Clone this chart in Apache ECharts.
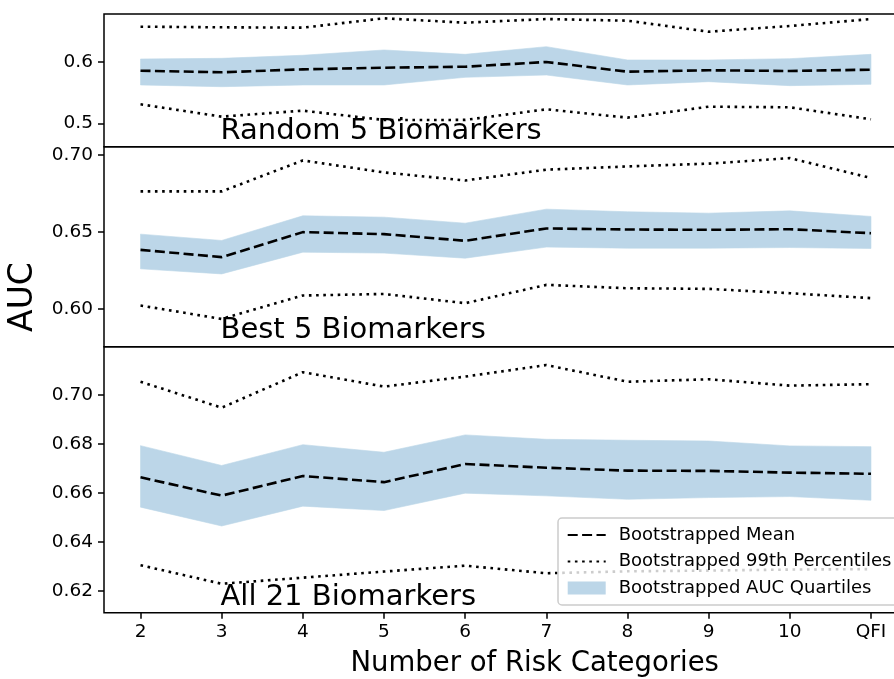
<!DOCTYPE html>
<html>
<head>
<meta charset="utf-8">
<script src="https://cdn.jsdelivr.net/npm/echarts@6/dist/echarts.min.js"></script>
<style>
  html, body { margin: 0; padding: 0; background: #ffffff; }
  #chart { width: 894px; height: 679px; }
</style>
</head>
<body>
<div id="chart"></div>
<script>
// Number of risk categories on the shared x axis
const categories = ['2', '3', '4', '5', '6', '7', '8', '9', '10', 'QFI'];

// Random 5 biomarkers
const random5Mean  = [0.5858, 0.5832, 0.5880, 0.5907, 0.5923, 0.6000, 0.5842, 0.5865, 0.5853, 0.5875];
const random5Q1    = [0.5625, 0.5597, 0.5625, 0.5625, 0.5750, 0.5788, 0.5625, 0.5679, 0.5614, 0.5636];
const random5Q3    = [0.6049, 0.6060, 0.6110, 0.6196, 0.6125, 0.6250, 0.6033, 0.6033, 0.6054, 0.6125];
const random5Low   = [0.5310, 0.5108, 0.5206, 0.5054, 0.5055, 0.5228, 0.5092, 0.5271, 0.5261, 0.5065];
const random5High  = [0.6576, 0.6566, 0.6560, 0.6713, 0.6641, 0.6701, 0.6674, 0.6494, 0.6587, 0.6701];

// Best 5 biomarkers
const best5Mean    = [0.6383, 0.6336, 0.6498, 0.6485, 0.6442, 0.6522, 0.6515, 0.6513, 0.6517, 0.6491];
const best5Q1      = [0.6260, 0.6227, 0.6368, 0.6362, 0.6329, 0.6401, 0.6394, 0.6394, 0.6398, 0.6392];
const best5Q3      = [0.6485, 0.6444, 0.6604, 0.6595, 0.6556, 0.6647, 0.6630, 0.6621, 0.6636, 0.6600];
const best5Low     = [0.6022, 0.5935, 0.6087, 0.6097, 0.6037, 0.6156, 0.6134, 0.6130, 0.6102, 0.6070];
const best5High    = [0.6762, 0.6762, 0.6963, 0.6885, 0.6833, 0.6903, 0.6924, 0.6942, 0.6978, 0.6849];

// All 21 biomarkers
const all21Mean    = [0.6664, 0.6589, 0.6669, 0.6644, 0.6718, 0.6703, 0.6691, 0.6690, 0.6683, 0.6678];
const all21Q1      = [0.6542, 0.6465, 0.6546, 0.6528, 0.6599, 0.6588, 0.6574, 0.6581, 0.6585, 0.6570];
const all21Q3      = [0.6793, 0.6712, 0.6797, 0.6766, 0.6837, 0.6819, 0.6815, 0.6812, 0.6792, 0.6789];
const all21Low     = [0.6305, 0.6229, 0.6254, 0.6279, 0.6303, 0.6272, 0.6280, 0.6283, 0.6287, 0.6289];
const all21High    = [0.7054, 0.6948, 0.7093, 0.7034, 0.7075, 0.7122, 0.7054, 0.7064, 0.7038, 0.7044];

// y tick values of each panel
const random5Ticks = [0.5, 0.6];
const best5Ticks   = [0.60, 0.65, 0.70];
const all21Ticks   = [0.62, 0.64, 0.66, 0.68, 0.70];

const panelTitles = ['Random 5 Biomarkers', 'Best 5 Biomarkers', 'All 21 Biomarkers'];
const seriesNames = ['Bootstrapped Mean', 'Bootstrapped 99th Percentiles', 'Bootstrapped AUC Quartiles'];
const xTitle = 'Number of Risk Categories';
const yTitle = 'AUC';

const FONT = 'DejaVu Sans';
const BAND = '#bcd6e8';

const panels = [
  { mean: random5Mean, q1: random5Q1, q3: random5Q3, lo: random5Low, hi: random5High,
    ticks: random5Ticks, digits: 1, min: 0.4618, max: 0.6783, top: 14, height: 132.7 },
  { mean: best5Mean, q1: best5Q1, q3: best5Q3, lo: best5Low, hi: best5High,
    ticks: best5Ticks, digits: 2, min: 0.5755, max: 0.7052, top: 146.7, height: 200 },
  { mean: all21Mean, q1: all21Q1, q3: all21Q3, lo: all21Low, hi: all21High,
    ticks: all21Ticks, digits: 2, min: 0.6111, max: 0.7197, top: 346.7, height: 266 }
];

const catIdx = categories.map((c, i) => i);
const pairs = arr => arr.map((v, i) => [i, v]);

// Quartile band: one polygon running along Q3 and back along Q1
function bandRenderer(q1, q3) {
  return function (params, api) {
    if (params.dataIndex !== 0) return null;
    const pts = [];
    for (let i = 0; i < q3.length; i++) pts.push(api.coord([i, q3[i]]));
    for (let i = q1.length - 1; i >= 0; i--) pts.push(api.coord([i, q1[i]]));
    return {
      type: 'polygon',
      shape: { points: pts },
      style: { fill: BAND, stroke: BAND, lineWidth: 0.6 }
    };
  };
}

const grids = [], xAxes = [], yAxes = [], series = [];
panels.forEach((p, k) => {
  const last = k === panels.length - 1;
  grids.push({
    left: 104, right: -13.5, top: p.top, height: p.height,
    show: true, borderColor: '#000000', borderWidth: 1.5, backgroundColor: 'transparent',
    containLabel: false, outerBoundsMode: 'none'
  });
  xAxes.push({
    type: 'value', gridIndex: k, min: -0.45, max: 9.45, position: 'bottom',
    axisLine: { show: false, onZero: false },
    splitLine: { show: false },
    axisTick: { show: last, customValues: catIdx, length: 6, lineStyle: { color: '#000', width: 1.5 } },
    axisLabel: {
      show: last, customValues: catIdx, margin: 10,
      formatter: v => categories[Math.round(v)],
      fontFamily: FONT, fontSize: 18.5, color: '#000'
    }
  });
  yAxes.push({
    type: 'value', gridIndex: k, min: p.min, max: p.max, position: 'left',
    axisLine: { show: false, onZero: false },
    splitLine: { show: false },
    axisTick: { show: true, customValues: p.ticks, length: 6, lineStyle: { color: '#000', width: 1.5 } },
    axisLabel: {
      show: true, customValues: p.ticks, margin: 11,
      formatter: v => v.toFixed(p.digits),
      fontFamily: FONT, fontSize: 18.5, color: '#000'
    }
  });
  series.push({
    type: 'custom', name: seriesNames[2], xAxisIndex: k, yAxisIndex: k,
    data: catIdx.map(i => [i, p.q1[i], p.q3[i]]),
    encode: { x: 0, y: [1, 2] },
    renderItem: bandRenderer(p.q1, p.q3),
    itemStyle: { color: BAND },
    silent: true, z: 1
  });
  series.push({
    type: 'line', name: seriesNames[0], xAxisIndex: k, yAxisIndex: k,
    data: pairs(p.mean), symbol: 'none', color: '#000',
    lineStyle: { color: '#000', width: 2.6, type: [10, 4.4] },
    silent: true, z: 3, animation: false
  });
  [p.lo, p.hi].forEach(arr => {
    series.push({
      type: 'line', name: seriesNames[1], xAxisIndex: k, yAxisIndex: k,
      data: pairs(arr), symbol: 'none', color: '#000',
      lineStyle: { color: '#000', width: 2.6, type: [2.6, 4.6] },
      silent: true, z: 3, animation: false
    });
  });
});

const titleBaselines = [141.7, 340.7, 607.7];
const TITLE_FS = 29;
const graphics = panelTitles.map((t, k) => ({
  type: 'text', left: 220.5, top: titleBaselines[k] - 0.346 * TITLE_FS - TITLE_FS / 2, z: 10,
  style: { text: t, fontFamily: FONT, fontSize: TITLE_FS, fill: '#000', lineHeight: TITLE_FS }
}));
graphics.push({
  type: 'text', x: 534.7, y: 673.3 - 0.346 * 27.5, z: 10,
  style: { text: xTitle, fontFamily: FONT, fontSize: 27.5, fill: '#000',
           align: 'center', verticalAlign: 'middle' }
});
graphics.push({
  type: 'text', x: 23, y: 297, rotation: Math.PI / 2, z: 10,
  style: { text: yTitle, fontFamily: FONT, fontSize: 33, fill: '#000',
           align: 'center', verticalAlign: 'middle' }
});

const chart = echarts.init(document.getElementById('chart'), null, { renderer: 'canvas' });
chart.setOption({
  animation: false,
  backgroundColor: '#ffffff',
  textStyle: { fontFamily: FONT },
  grid: grids,
  xAxis: xAxes,
  yAxis: yAxes,
  legend: {
    orient: 'vertical', left: 558, top: 518,
    padding: [3.75, 9, 3.75, 8.7], itemGap: 0,
    itemWidth: 38, itemHeight: 13,
    backgroundColor: 'rgba(255,255,255,0.8)', borderColor: '#cccccc', borderWidth: 1.5, borderRadius: 4,
    selectedMode: false,
    textStyle: { fontFamily: FONT, fontSize: 18, color: '#000', lineHeight: 26.5, padding: [0, 0, 0, 8] },
    data: [
      { name: seriesNames[0], itemStyle: { opacity: 0 } },
      { name: seriesNames[1], itemStyle: { opacity: 0 } },
      { name: seriesNames[2], icon: 'rect', itemStyle: { color: BAND } }
    ],
    z: 20
  },
  graphic: graphics,
  series: series
});
</script>
</body>
</html>
